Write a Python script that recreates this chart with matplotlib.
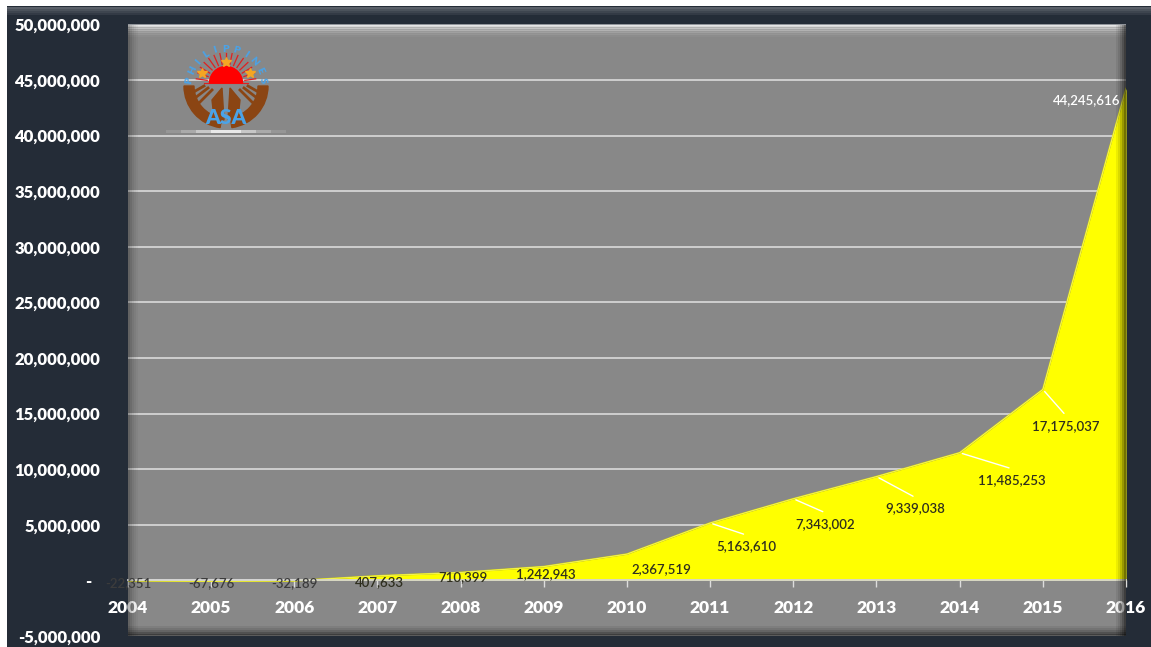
import numpy as np
import matplotlib
matplotlib.use("Agg")
import matplotlib.pyplot as plt
import matplotlib.patches as patches
from matplotlib.ticker import FuncFormatter, MultipleLocator

years = [2004, 2005, 2006, 2007, 2008, 2009, 2010, 2011, 2012, 2013, 2014, 2015, 2016]
values = [-22351, -67676, -32189, 407633, 710399, 1242943, 2367519, 5163610,
          7343002, 9339038, 11485253, 17175037, 44245616]

# label offsets in pixels (dx, dy downward) and whether a leader line is drawn
label_offsets = [(0, 2), (0, 2), (0, 2), (2, 6), (2, 5), (2, 8), (34, 15),
                 (36, 23), (32, 25), (39, 32), (52, 27), (23, 37), (-39, 12)]
leaders = [False] * 7 + [True] * 5 + [False]

W, H = 1151, 647
BG = "#242c37"
PLOT = "#888888"
BLUE = "#4aa3e8"
BROWN = "#8b4513"

plt.rcParams["font.family"] = ["Lato", "DejaVu Sans"]

fig = plt.figure(figsize=(W / 100, H / 100), dpi=100)
fig.patch.set_facecolor("white")

# dark outer frame with a light bevel at the top
fig.patches.append(patches.Rectangle((7 / W, 0), 1, 1 - 6 / H, transform=fig.transFigure,
                                     facecolor=BG, edgecolor="none", zorder=-10))
for i, a in enumerate([0.25, 0.18, 0.12, 0.07]):
    fig.patches.append(patches.Rectangle((7 / W, 1 - (9 + 2 * i) / H), 1, 2 / H,
                                         transform=fig.transFigure, facecolor="white",
                                         alpha=a, edgecolor="none", zorder=-9))

left, right, top, bottom = 128, 1126, 24.5, 636
ax = fig.add_axes([left / W, 1 - bottom / H, (right - left) / W, (bottom - top) / H])
ax.set_facecolor(PLOT)

ax.set_xlim(2004, 2016)
ax.set_ylim(-5_000_000, 50_000_000)

ax.fill_between(years, values, 0, color="#ffff00", linewidth=0, zorder=3)
ax.plot(years, values, color="#e0e000", linewidth=1.2, zorder=3)
ax.plot(years, values, color="#ffff90", linewidth=0.6, alpha=0.7, zorder=3)

ax.yaxis.set_major_locator(MultipleLocator(5_000_000))
ax.grid(axis="y", color="#d4d4d4", linewidth=1.3, zorder=1)
ax.grid(axis="x", visible=False)


def fmt(v, _):
    if abs(v) < 1:
        return "-  "
    return f"{v:,.0f}"


ax.yaxis.set_major_formatter(FuncFormatter(fmt))
ax.tick_params(axis="y", length=0, pad=20, labelcolor="white", labelsize=12)
for t in ax.get_yticklabels():
    t.set_fontweight("heavy")

ax.set_xticks(years)
ax.set_xticklabels([str(y) for y in years])
ax.spines["bottom"].set_position(("data", 0))
ax.tick_params(axis="x", direction="out", length=5, width=1, color="#dddddd",
               pad=9, labelcolor="white", labelsize=12.5)
for t in ax.get_xticklabels():
    t.set_fontweight("heavy")
for s in ["top", "left", "right"]:
    ax.spines[s].set_visible(False)
ax.spines["bottom"].set_color("#d4d4d4")
ax.spines["bottom"].set_linewidth(1.3)
ax.spines["bottom"].set_zorder(4)

# bevel of the plot area
ph, pw = bottom - top, right - left
for i, a in enumerate([0.5, 0.35, 0.24, 0.15, 0.08, 0.04]):
    ax.add_patch(patches.Rectangle((0, 1 - (2 + 2 * i) / ph), 1, 2 / ph,
                                   transform=ax.transAxes, facecolor="white", alpha=a,
                                   edgecolor="none", zorder=5, clip_on=False))
for i, a in enumerate([0.55, 0.4, 0.26, 0.15, 0.07]):
    ax.add_patch(patches.Rectangle((1 - (2 + 2 * i) / pw, 0), 2 / pw, 1,
                                   transform=ax.transAxes, facecolor="black", alpha=a,
                                   edgecolor="none", zorder=5, clip_on=False))
    ax.add_patch(patches.Rectangle((0, (2 * i) / ph), 1, 2 / ph,
                                   transform=ax.transAxes, facecolor="black", alpha=a,
                                   edgecolor="none", zorder=5, clip_on=False))
    ax.add_patch(patches.Rectangle(((2 * i) / pw, 0), 2 / pw, 1,
                                   transform=ax.transAxes, facecolor="black", alpha=a * 0.5,
                                   edgecolor="none", zorder=5, clip_on=False))

# data labels
for x, v, (dx, dy), lead in zip(years, values, label_offsets, leaders):
    color = "white" if x == 2016 else ("#3c3c3c" if v < 0 else "#2e2e1e")
    ax.annotate(f"{v:,.0f}", (x, v), xytext=(dx, -dy), textcoords="offset pixels",
                ha="center", va="center", fontsize=9.5, color=color, zorder=6,
                fontweight="semibold")
    if lead:
        ax.annotate("", (x, v), xytext=(dx, -dy + 11), textcoords="offset pixels",
                    arrowprops=dict(arrowstyle="-", color="white", lw=1), zorder=6)

# simplified logo, drawn in pixel units around its centre
cx, cy, half = 226, 90, 50
lg = fig.add_axes([(cx - half) / W, 1 - (cy + half) / H, 2 * half / W, 2 * half / H])
lg.set_xlim(-half, half)
lg.set_ylim(-half, half)
lg.axis("off")
sun_y = 7
for ang in np.linspace(8, 172, 15):
    r = np.radians(ang)
    lg.plot([19 * np.cos(r), 30 * np.cos(r)], [sun_y + 19 * np.sin(r), sun_y + 30 * np.sin(r)],
            color="#e02020", lw=0.9)
lg.add_patch(patches.Wedge((0, sun_y), 16.5, 0, 180, color="#ff0000", zorder=3))
lg.plot([-22, 22], [sun_y, sun_y], color="#e02020", lw=0.8)
for sx, sy in [(-24, 17), (0, 28), (24, 17)]:
    lg.plot(sx, sy, marker="*", color="#f5a623", markersize=7, zorder=4)
# hands
lg.add_patch(patches.Wedge((0, 4), 42, 180, 262, width=10, color=BROWN))
lg.add_patch(patches.Wedge((0, 4), 42, 278, 360, width=10, color=BROWN))
lg.add_patch(patches.Polygon([(-4, 2), (-2, -30), (-12, -28), (-14, -10)], color=BROWN))
lg.add_patch(patches.Polygon([(4, 2), (2, -30), (12, -28), (14, -10)], color=BROWN))
for k in range(3):
    lg.plot([-36 + 5 * k, -22 + 4 * k], [-4 - 4 * k, 4 - 2 * k], color=BROWN, lw=2)
    lg.plot([36 - 5 * k, 22 - 4 * k], [-4 - 4 * k, 4 - 2 * k], color=BROWN, lw=2)
lg.text(0, -27, "ASA", ha="center", va="center", color=BLUE, fontsize=15,
        fontweight="heavy", zorder=5)
word = "PHILIPPINES"
for i, ch in enumerate(word):
    ang = np.radians(172 - i * 164 / (len(word) - 1))
    lg.text(37 * np.cos(ang), 4 + 37 * np.sin(ang), ch, ha="center", va="center",
            rotation=np.degrees(ang) - 90, color=BLUE, fontsize=7.5, fontweight="heavy")
# glow line under the logo
for w, a in [(120, 0.12), (90, 0.2), (60, 0.35), (30, 0.6)]:
    fig.patches.append(patches.Rectangle(((cx - w / 2) / W, 1 - 133 / H), w / W, 3 / H,
                                         transform=fig.transFigure, facecolor="white",
                                         alpha=a, edgecolor="none", zorder=10))

fig.savefig("out.png", dpi=100, facecolor=fig.get_facecolor())
